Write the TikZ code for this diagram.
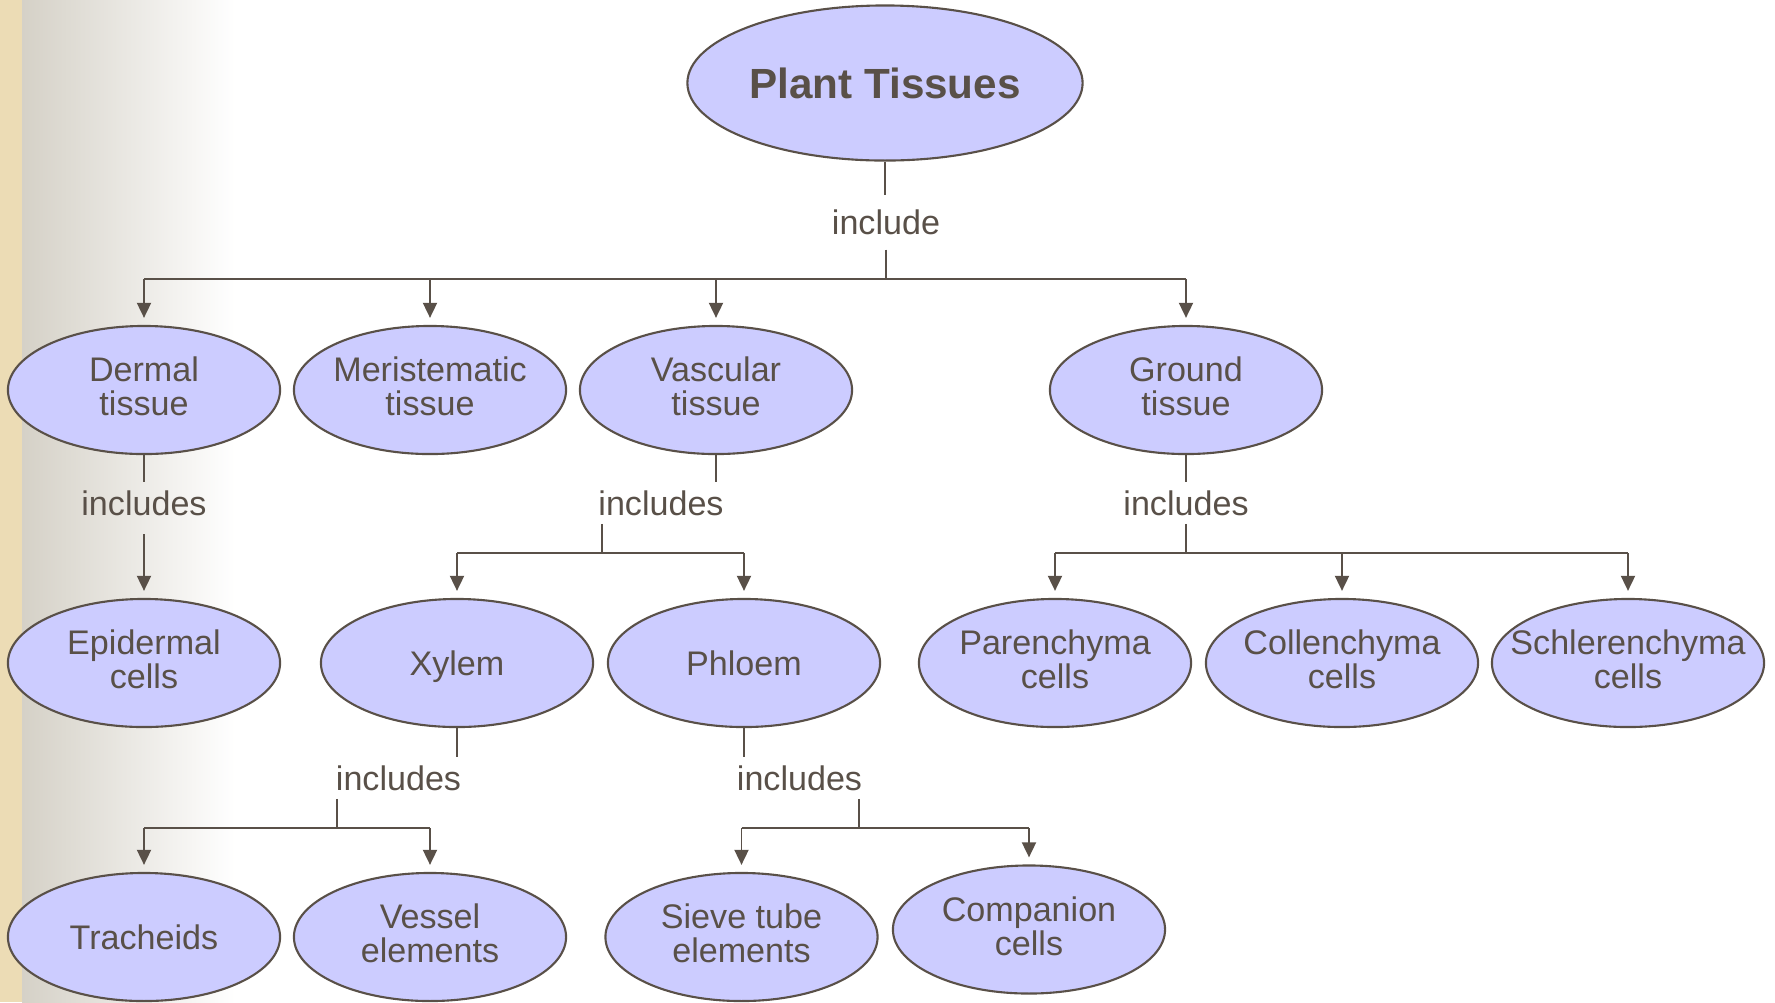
\documentclass[tikz,border=0pt]{standalone}
\usepackage{fontspec}
\setmainfont{Liberation Sans}
\usetikzlibrary{shapes.geometric,arrows.meta}
\definecolor{ink}{HTML}{595048}
\definecolor{lilac}{HTML}{CCCCFF}
\definecolor{paper}{HTML}{ECDCB5}
\definecolor{greyside}{HTML}{D5D1C7}
\begin{document}
\begin{tikzpicture}[x=0.01cm,y=-0.01cm,
  tissue/.style={ellipse,draw=ink,fill=lilac,line width=0.6pt,inner xsep=-10pt,inner ysep=0pt,
    minimum width=2.72cm,minimum height=1.28cm,align=center,text=ink,
    font=\fontsize{9.7}{9.7}\selectfont},
  pair/.style={tissue,execute at end node={\rule[-2pt]{0pt}{0pt}}},
  rel/.style={text=ink,font=\fontsize{9.7}{11}\selectfont,inner xsep=0pt,inner ysep=2.2pt,
    text height=7pt,text depth=0pt},
  link/.style={draw=ink,line width=0.55pt},
  arr/.style={link,-{Triangle[width=4pt,length=4.3pt]},shorten >=2pt}]
% background
\fill[paper] (0,0) rectangle (22,1002);
\shade[left color=greyside,right color=white] (22,0) rectangle (235,1002);
\useasboundingbox (0,0) rectangle (1775,1002);

\node[tissue,minimum width=3.95cm,minimum height=1.55cm,inner xsep=0pt,font=\fontsize{12}{14}\selectfont\bfseries]
  (plant) at (885,83) {Plant Tissues};
\node[rel,inner ysep=4pt] (inc0) at (886,222.5) {include};
\coordinate (j0) at (886,279);

\node[pair] (dermal) at (144,390) {Dermal\\tissue};
\node[pair] (meri) at (430,390) {Meristematic\\tissue};
\node[pair] (vasc) at (716,390) {Vascular\\tissue};
\node[pair] (ground) at (1186,390) {Ground\\tissue};

\node[rel] (incD) at (144,503) {includes};
\node[rel] (incV) at (661,503) {includes};
\node[rel] (incG) at (1186,503) {includes};
\coordinate (jV) at (602,553);
\coordinate (jG) at (1186,553);

\node[pair] (epid) at (144,663) {Epidermal\\cells};
\node[tissue] (xylem) at (457,663) {\raisebox{0pt}[\height][0pt]{Xylem}};
\node[tissue] (phloem) at (744,663) {Phloem};
\node[pair] (paren) at (1055,663) {Parenchyma\\cells};
\node[pair] (collen) at (1342,663) {Collenchyma\\cells};
\node[pair] (schler) at (1628,663) {Schlerenchyma\\cells};

\node[rel] (incX) at (398.5,778) {includes};
\node[rel] (incP) at (799.5,778) {includes};
\coordinate (jX) at (337,828);
\coordinate (jP) at (859,828);

\node[tissue] (trach) at (144,937) {Tracheids};
\node[pair] (vessel) at (430,937) {Vessel\\elements};
\node[pair] (sieve) at (741.5,937) {Sieve tube\\elements};
\node[pair] (comp) at (1029,929.5) {Companion\\cells};

% plant tissues
\draw[link] (plant.south) -- (plant.south |- inc0.north);
\draw[link] (inc0.south -| j0) -- (j0);
\draw[link] (j0 -| dermal) -- (j0 -| ground);
\foreach \t in {dermal,meri,vasc,ground}
  \draw[arr] (j0 -| \t) -- (\t.north);

% dermal
\draw[link] (dermal.south) -- (incD.north);
\draw[arr,shorten <=3pt] (incD.south) -- (epid.north);

% vascular
\draw[link] (vasc.south) -- (vasc.south |- incV.north);
\draw[link] (incV.south -| jV) -- (jV);
\draw[link] (jV -| xylem) -- (jV -| phloem);
\foreach \t in {xylem,phloem}
  \draw[arr] (jV -| \t) -- (\t.north);

% ground
\draw[link] (ground.south) -- (incG.north);
\draw[link] (incG.south) -- (jG);
\draw[link] (jG -| paren) -- (jG -| schler);
\foreach \t in {paren,collen,schler}
  \draw[arr] (jG -| \t) -- (\t.north);

% xylem
\draw[link] (xylem.south) -- (xylem.south |- incX.north);
\draw[link] (incX.south -| jX) -- (jX);
\draw[link] (jX -| trach) -- (jX -| vessel);
\foreach \t in {trach,vessel}
  \draw[arr] (jX -| \t) -- (\t.north);

% phloem
\draw[link] (phloem.south) -- (phloem.south |- incP.north);
\draw[link] (incP.south -| jP) -- (jP);
\draw[link] (jP -| sieve) -- (jP -| comp);
\foreach \t in {sieve,comp}
  \draw[arr] (jP -| \t) -- (\t.north);
\end{tikzpicture}
\end{document}
